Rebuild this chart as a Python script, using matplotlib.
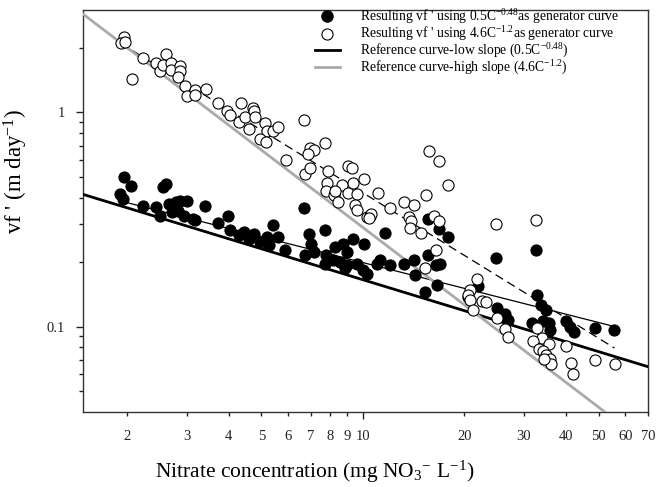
import numpy as np
import matplotlib
matplotlib.use('Agg')
import matplotlib.pyplot as plt
from matplotlib.ticker import FixedLocator, NullFormatter, FixedFormatter
from matplotlib.lines import Line2D

plt.rcParams['font.family'] = ['Liberation Serif', 'DejaVu Serif']
plt.rcParams['mathtext.fontset'] = 'custom'
plt.rcParams['mathtext.rm'] = 'Liberation Serif'
plt.rcParams['mathtext.it'] = 'Liberation Serif:italic'

# vf' generated with 0.5C^-0.48 (filled)
low_x = [1.96, 2.06, 1.90, 1.95, 2.55, 2.61, 2.23, 2.44, 2.51, 2.66,
         2.72, 2.80, 2.87, 3.01, 2.84, 2.94, 3.14, 3.18, 3.41, 3.71,
         3.98, 4.03, 4.28, 4.43, 4.74, 4.58, 4.96, 5.19, 5.43, 5.62,
         5.25, 5.88, 6.70, 6.90, 7.74, 7.0, 6.75, 7.14, 7.78, 7.74,
         8.26, 8.73, 8.95, 9.36, 10.1, 8.17, 8.54, 8.95, 9.58, 8.85,
         10.25, 10.98, 10.0, 11.2, 11.6, 15.6, 16.8, 17.9, 24.8, 32.5,
         12.0, 13.2, 14.2, 15.6, 16.5, 16.9, 14.3, 15.3, 16.6, 20.5,
         21.9, 24.9, 26.4, 27.0, 32.9, 33.7, 34.9, 31.7, 34.2, 35.5,
         40.1, 41.1, 42.1, 48.8, 55.6, 35.9]
low_y = [0.50, 0.454, 0.416, 0.394, 0.447, 0.463, 0.365, 0.361, 0.33, 0.374,
         0.342, 0.381, 0.387, 0.387, 0.348, 0.33, 0.319, 0.313, 0.365, 0.305,
         0.328, 0.281, 0.267, 0.277, 0.272, 0.257, 0.249, 0.262, 0.297, 0.262,
         0.241, 0.227, 0.358, 0.272, 0.281, 0.244, 0.216, 0.223, 0.217, 0.197,
         0.236, 0.244, 0.223, 0.257, 0.244, 0.204, 0.201, 0.194, 0.197, 0.187,
         0.177, 0.197, 0.184, 0.204, 0.273, 0.319, 0.286, 0.262, 0.21, 0.229,
         0.194, 0.197, 0.204, 0.217, 0.194, 0.197, 0.174, 0.145, 0.156, 0.138,
         0.154, 0.122, 0.114, 0.108, 0.141, 0.126, 0.119, 0.104, 0.106, 0.104,
         0.106, 0.10, 0.094, 0.0985, 0.096, 0.097]

# vf' generated with 4.6C^-1.2 (open)
high_x = [1.96, 1.92, 1.97, 2.07, 2.23, 2.44, 2.61, 2.51, 2.56, 2.69,
          2.69, 2.86, 2.87, 2.83, 2.97, 3.01, 3.18, 3.18, 3.42, 3.71,
          3.95, 4.03, 4.35, 4.28, 4.47, 4.71, 4.74, 4.80, 4.61, 5.11,
          5.19, 5.41, 5.60, 4.96, 5.15, 5.91, 6.70, 6.95, 7.14, 6.87,
          7.74, 6.75, 6.98, 7.88, 7.83, 7.78, 8.2, 9.05, 9.27, 10.1,
          9.36, 8.65, 8.26, 9.05, 9.58, 11.1, 8.45, 9.47, 9.58, 10.25,
          10.5, 12.0, 10.6, 10.4, 13.2, 14.2, 15.4, 13.7, 13.9, 13.8,
          14.9, 16.2, 16.8, 16.5, 15.7, 16.8, 17.9, 24.8, 32.5, 15.3,
          21.8, 20.7, 20.5, 20.7, 22.5, 23.2, 21.2, 24.9, 26.4, 27.0,
          32.9, 33.9, 32.0, 35.5, 33.2, 34.2, 35.0, 35.9, 36.0, 34.4,
          40.0, 41.3, 41.9, 48.8, 55.7]
high_y = [2.25, 2.10, 2.12, 1.43, 1.79, 1.70, 1.88, 1.56, 1.66, 1.69,
          1.58, 1.64, 1.55, 1.46, 1.33, 1.19, 1.27, 1.21, 1.28, 1.10,
          1.01, 0.976, 1.10, 0.90, 0.95, 1.05, 1.01, 0.95, 0.84, 0.89,
          0.82, 0.82, 0.85, 0.75, 0.73, 0.60, 0.925, 0.68, 0.67, 0.64,
          0.72, 0.515, 0.55, 0.53, 0.47, 0.43, 0.41, 0.56, 0.55, 0.49,
          0.47, 0.46, 0.43, 0.42, 0.415, 0.42, 0.38, 0.37, 0.35, 0.325,
          0.33, 0.357, 0.336, 0.32, 0.383, 0.37, 0.41, 0.325, 0.31, 0.29,
          0.274, 0.33, 0.31, 0.227, 0.66, 0.59, 0.46, 0.30, 0.316, 0.187,
          0.167, 0.148, 0.14, 0.133, 0.132, 0.131, 0.119, 0.11, 0.0975, 0.0896,
          0.099, 0.0887, 0.0856, 0.0826, 0.079, 0.077, 0.074, 0.0703, 0.067, 0.0703,
          0.081, 0.0674, 0.06, 0.0696, 0.0667]

x_ticks = [2, 3, 4, 5, 6, 7, 8, 9, 10, 20, 30, 40, 50, 60, 70]

# reference curves a*C^b
ref_low = (0.5, -0.48)
ref_high = (4.6, -1.2)
# fitted curves through the generated points, as drawn (a, b, C range)
fit_low = (0.5, -0.40, 1.9, 56)
fit_high = (3.94, -0.971, 1.92, 55.7)

fig = plt.figure(figsize=(6.69, 4.87), dpi=100)
ax = fig.add_axes([83/669, 1-412/487, (648-83)/669, (412-10)/487])
ax.set_xscale('log')
ax.set_yscale('log')

xr = np.logspace(np.log10(1.48), np.log10(70), 200)
ax.plot(xr, ref_low[0]*xr**ref_low[1], color='black', lw=2.0, zorder=3)
ax.plot(xr, ref_high[0]*xr**ref_high[1], color='#aaaaaa', lw=2.0, zorder=3)

for (a, b, c0, c1), ls in [(fit_low, '-'), (fit_high, (0, (7, 4)))]:
    xf = np.logspace(np.log10(c0), np.log10(c1), 50)
    ax.plot(xf, a*xf**b, color='black', lw=0.9, linestyle=ls, zorder=2)

ax.plot(low_x, low_y, 'o', ms=8, mfc='black', mec='black', mew=0.8, zorder=4)
ax.plot(high_x, high_y, 'o', ms=8, mfc='white', mec='black', mew=0.8, zorder=4)

ax.set_xlim(1.48, 70)
ax.set_ylim(0.04, 3)

ax.xaxis.set_major_locator(FixedLocator([10]))
ax.xaxis.set_major_formatter(FixedFormatter(['10']))
minor_x = [t for t in x_ticks if t != 10]
ax.xaxis.set_minor_locator(FixedLocator(minor_x))
ax.xaxis.set_minor_formatter(FixedFormatter([str(t) for t in minor_x]))

ax.yaxis.set_major_locator(FixedLocator([0.1, 1]))
ax.yaxis.set_major_formatter(FixedFormatter(['0.1', '1']))
ax.yaxis.set_minor_locator(FixedLocator([0.05, 0.06, 0.07, 0.08, 0.09, 0.2, 0.3, 0.4, 0.5, 0.6, 0.7, 0.8, 0.9, 2]))
ax.yaxis.set_minor_formatter(NullFormatter())

ax.tick_params(axis='both', which='major', direction='out', length=5, width=1, labelsize=10.5, colors='#222222')
ax.tick_params(axis='both', which='minor', direction='out', length=3, width=1, labelsize=10.5, colors='#222222')
ax.tick_params(axis='x', which='major', pad=8)
ax.tick_params(axis='x', which='minor', pad=10)
ax.tick_params(axis='y', which='major', pad=8)
for s in ax.spines.values():
    s.set_linewidth(1.0)
    s.set_color('#333333')

ax.set_ylabel("vf ' (m day$^{\\mathrm{-1}}$)", fontsize=16.5)
ax.yaxis.set_label_coords((30-83)/565, (412-171)/402)
fig.text(315/669, 1-472/487, 'Nitrate concentration (mg NO$_{\\mathrm{3}}$$^{\\mathrm{-}}$ L$^{\\mathrm{-1}}$)',
         fontsize=15.5, ha='center', va='center')

handles = [Line2D([], [], ls='none', marker='o', ms=8, mfc='black', mec='black'),
           Line2D([], [], ls='none', marker='o', ms=8, mfc='white', mec='black', mew=0.8),
           Line2D([], [], color='black', lw=2.0),
           Line2D([], [], color='#aaaaaa', lw=2.0)]
labels = ["Resulting vf ' using 0.5C$^{\\mathrm{-0.48}}$as generator curve",
          "Resulting vf ' using 4.6C$^{\\mathrm{-1.2}}$as generator curve",
          "Reference curve-low slope (0.5C$^{\\mathrm{-0.48}}$)",
          "Reference curve-high slope (4.6C$^{\\mathrm{-1.2}}$)"]
ax.legend(handles, labels, loc='upper left', bbox_to_anchor=(315/669, 1-7/487),
          bbox_transform=fig.transFigure, frameon=False, fontsize=9.8,
          handlelength=1.8, handletextpad=1.5, labelspacing=-0.1,
          borderpad=0, borderaxespad=0)

fig.savefig('out.png', dpi=100)
